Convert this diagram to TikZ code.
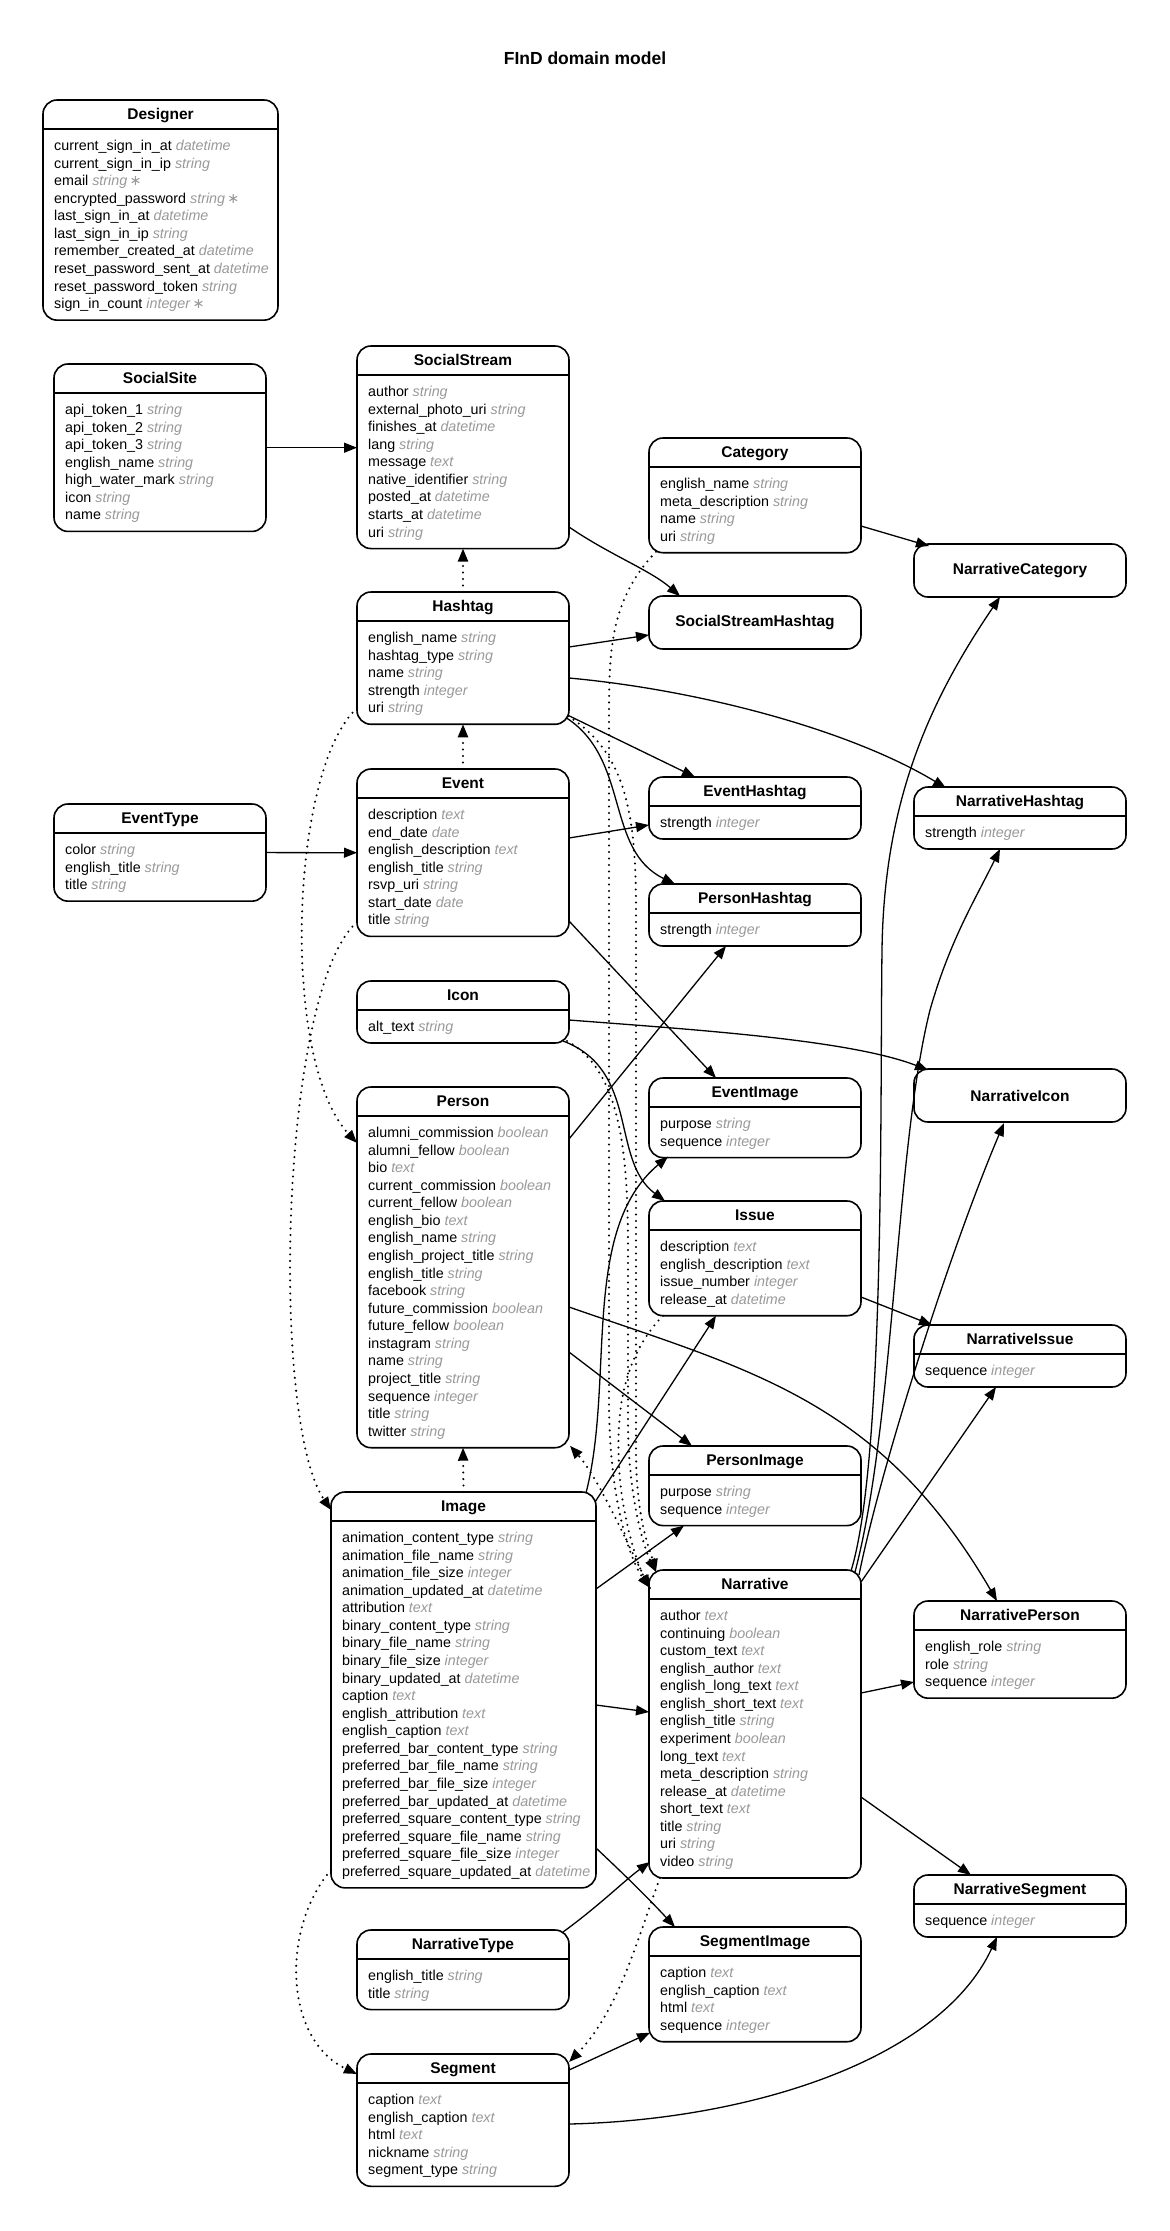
\documentclass[tikz,border=0pt]{standalone}
\usepackage{fontspec}
\setmainfont{Liberation Sans}
\newfontfamily\symfont{DejaVu Sans}
\usetikzlibrary{arrows.meta,calc}
\definecolor{typegrey}{gray}{0.6}

\tikzset{
  entbox/.style={draw, line width=1.6pt, rounded corners=14pt, anchor=north west, inner sep=0pt, outer sep=0pt},
  sepline/.style={line width=1.6pt},
  enttitle/.style={anchor=base, inner sep=0pt, font=\bfseries\fontsize{15.5}{18}\selectfont},
  entrows/.style={anchor=north west, inner sep=0pt, align=left, font=\fontsize{14.3}{17.57}\selectfont},
  joinbox/.style={entbox, minimum width=212pt, minimum height=53pt, font=\bfseries\fontsize{15.5}{18}\selectfont},
  rel/.style={-{Triangle[length=13pt,width=10pt]}, line width=1.3pt},
  indirect/.style={rel, line width=2.3pt, line cap=round, dash pattern=on 0pt off 6.5pt},
}

% attribute row: name, then its type in grey
\newcommand{\attr}[2]{#1 {\color{typegrey}\itshape #2}}
\newcommand{\req}{\,{\symfont\upshape ∗}}
% entity box: name, x, y, width, rows, title, attributes
\newcommand{\entity}[7]{%
  \node[entbox, minimum width=#4pt, minimum height={44.43pt+#5*17.57pt}] (#1) at (#2,#3) {};
  \draw[sepline] ([yshift=-29pt]#1.north west) -- ([yshift=-29pt]#1.north east);
  \node[enttitle] (#1-title) at ([yshift=-19.5pt]#1.north) {#6};
  \node[entrows] (#1-rows) at ([shift={(11pt,-38pt)}]#1.north west) {\strut#7};
}

\begin{document}
\begin{tikzpicture}[x=1pt, y=-1pt]
    % Canvas
    \fill[white] (0,0) rectangle (1170,2231);
    \useasboundingbox (0,0) rectangle (1170,2231);

    \node[font=\bfseries\fontsize{17.5}{20}\selectfont] (title) at (585,58) {FInD domain model};

    % Entities
    \entity{designer}{43}{100}{235}{10}{Designer}{\attr{current\_sign\_in\_at}{datetime}\\ \attr{current\_sign\_in\_ip}{string}\\ \attr{email}{string\req}\\ \attr{encrypted\_password}{string\req}\\ \attr{last\_sign\_in\_at}{datetime}\\ \attr{last\_sign\_in\_ip}{string}\\ \attr{remember\_created\_at}{datetime}\\ \attr{reset\_password\_sent\_at}{datetime}\\ \attr{reset\_password\_token}{string}\\ \attr{sign\_in\_count}{integer\req}}
    \entity{socialsite}{54}{364}{212}{7}{SocialSite}{\attr{api\_token\_1}{string}\\ \attr{api\_token\_2}{string}\\ \attr{api\_token\_3}{string}\\ \attr{english\_name}{string}\\ \attr{high\_water\_mark}{string}\\ \attr{icon}{string}\\ \attr{name}{string}}
    \entity{socialstream}{357}{346}{212}{9}{SocialStream}{\attr{author}{string}\\ \attr{external\_photo\_uri}{string}\\ \attr{finishes\_at}{datetime}\\ \attr{lang}{string}\\ \attr{message}{text}\\ \attr{native\_identifier}{string}\\ \attr{posted\_at}{datetime}\\ \attr{starts\_at}{datetime}\\ \attr{uri}{string}}
    \entity{category}{649}{438}{212}{4}{Category}{\attr{english\_name}{string}\\ \attr{meta\_description}{string}\\ \attr{name}{string}\\ \attr{uri}{string}}
    \node[joinbox] (ssh) at (649,596) {SocialStreamHashtag};
    \node[joinbox] (nc) at (914,544) {NarrativeCategory};
    \entity{hashtag}{357}{592}{212}{5}{Hashtag}{\attr{english\_name}{string}\\ \attr{hashtag\_type}{string}\\ \attr{name}{string}\\ \attr{strength}{integer}\\ \attr{uri}{string}}
    \entity{eh}{649}{777}{212}{1}{EventHashtag}{\attr{strength}{integer}}
    \entity{nh}{914}{787}{212}{1}{NarrativeHashtag}{\attr{strength}{integer}}
    \entity{eventtype}{54}{804}{212}{3}{EventType}{\attr{color}{string}\\ \attr{english\_title}{string}\\ \attr{title}{string}}
    \entity{event}{357}{769}{212}{7}{Event}{\attr{description}{text}\\ \attr{end\_date}{date}\\ \attr{english\_description}{text}\\ \attr{english\_title}{string}\\ \attr{rsvp\_uri}{string}\\ \attr{start\_date}{date}\\ \attr{title}{string}}
    \entity{ph}{649}{884}{212}{1}{PersonHashtag}{\attr{strength}{integer}}
    \entity{icon}{357}{981}{212}{1}{Icon}{\attr{alt\_text}{string}}
    \node[joinbox] (ni) at (914,1069) {NarrativeIcon};
    \entity{ei}{649}{1078}{212}{2}{EventImage}{\attr{purpose}{string}\\ \attr{sequence}{integer}}
    \entity{person}{357}{1087}{212}{18}{Person}{\attr{alumni\_commission}{boolean}\\ \attr{alumni\_fellow}{boolean}\\ \attr{bio}{text}\\ \attr{current\_commission}{boolean}\\ \attr{current\_fellow}{boolean}\\ \attr{english\_bio}{text}\\ \attr{english\_name}{string}\\ \attr{english\_project\_title}{string}\\ \attr{english\_title}{string}\\ \attr{facebook}{string}\\ \attr{future\_commission}{boolean}\\ \attr{future\_fellow}{boolean}\\ \attr{instagram}{string}\\ \attr{name}{string}\\ \attr{project\_title}{string}\\ \attr{sequence}{integer}\\ \attr{title}{string}\\ \attr{twitter}{string}}
    \entity{issue}{649}{1201}{212}{4}{Issue}{\attr{description}{text}\\ \attr{english\_description}{text}\\ \attr{issue\_number}{integer}\\ \attr{release\_at}{datetime}}
    \entity{nis}{914}{1325}{212}{1}{NarrativeIssue}{\attr{sequence}{integer}}
    \entity{pi}{649}{1446}{212}{2}{PersonImage}{\attr{purpose}{string}\\ \attr{sequence}{integer}}
    \entity{image}{331}{1492}{265}{20}{Image}{\attr{animation\_content\_type}{string}\\ \attr{animation\_file\_name}{string}\\ \attr{animation\_file\_size}{integer}\\ \attr{animation\_updated\_at}{datetime}\\ \attr{attribution}{text}\\ \attr{binary\_content\_type}{string}\\ \attr{binary\_file\_name}{string}\\ \attr{binary\_file\_size}{integer}\\ \attr{binary\_updated\_at}{datetime}\\ \attr{caption}{text}\\ \attr{english\_attribution}{text}\\ \attr{english\_caption}{text}\\ \attr{preferred\_bar\_content\_type}{string}\\ \attr{preferred\_bar\_file\_name}{string}\\ \attr{preferred\_bar\_file\_size}{integer}\\ \attr{preferred\_bar\_updated\_at}{datetime}\\ \attr{preferred\_square\_content\_type}{string}\\ \attr{preferred\_square\_file\_name}{string}\\ \attr{preferred\_square\_file\_size}{integer}\\ \attr{preferred\_square\_updated\_at}{datetime}}
    \entity{narrative}{649}{1570}{212}{15}{Narrative}{\attr{author}{text}\\ \attr{continuing}{boolean}\\ \attr{custom\_text}{text}\\ \attr{english\_author}{text}\\ \attr{english\_long\_text}{text}\\ \attr{english\_short\_text}{text}\\ \attr{english\_title}{string}\\ \attr{experiment}{boolean}\\ \attr{long\_text}{text}\\ \attr{meta\_description}{string}\\ \attr{release\_at}{datetime}\\ \attr{short\_text}{text}\\ \attr{title}{string}\\ \attr{uri}{string}\\ \attr{video}{string}}
    \entity{np}{914}{1601}{212}{3}{NarrativePerson}{\attr{english\_role}{string}\\ \attr{role}{string}\\ \attr{sequence}{integer}}
    \entity{ns}{914}{1875}{212}{1}{NarrativeSegment}{\attr{sequence}{integer}}
    \entity{nt}{357}{1930}{212}{2}{NarrativeType}{\attr{english\_title}{string}\\ \attr{title}{string}}
    \entity{si}{649}{1927}{212}{4}{SegmentImage}{\attr{caption}{text}\\ \attr{english\_caption}{text}\\ \attr{html}{text}\\ \attr{sequence}{integer}}
    \entity{segment}{357}{2054}{212}{5}{Segment}{\attr{caption}{text}\\ \attr{english\_caption}{text}\\ \attr{html}{text}\\ \attr{nickname}{string}\\ \attr{segment\_type}{string}}

    % Relations
    \draw[rel] (socialsite.east) -- (socialstream.west |- socialsite.east);
    \draw[rel] ([shift={(0,181)}]socialstream.north east) .. controls (610,555) and (650,570) .. ([shift={(31,0)}]ssh.north west);
    \draw[rel] ([shift={(0,55)}]hashtag.north east) -- ([shift={(0,39)}]ssh.north west);
    \draw[rel] ([shift={(0,88)}]category.north east) -- ([shift={(15,2)}]nc.north west);
    \draw[rel] ([shift={(-1,-9)}]hashtag.south east) -- ([shift={(46,0)}]eh.north west);
    \draw[rel] ([shift={(0,86)}]hashtag.north east) .. controls (700,690) and (850,730) .. ([shift={(32,1)}]nh.north west);
    \draw[rel] ([shift={(0,69)}]event.north east) -- ([shift={(0,48)}]eh.north west);
    \draw[rel] ([shift={(-2,-6)}]hashtag.south east) .. controls (630,760) and (605,850) .. ([shift={(26,0)}]ph.north west);
    \draw[rel] (eventtype.east) -- (event.west);
    \draw[rel] ([shift={(0,152)}]event.north east) -- ([shift={(67,0)}]ei.north west);
    \draw[rel] ([shift={(0,52)}]person.north east) -- ([shift={(77,0)}]ph.south west);
    \draw[rel] ([shift={(0,39)}]icon.north east) .. controls (700,1030) and (850,1040) .. ([shift={(14,1)}]ni.north west);
    \draw[rel] ([shift={(-6,-2)}]icon.south east) .. controls (640,1070) and (610,1160) .. ([shift={(16,0)}]issue.north west);
    \draw[rel] ([shift={(-10,1)}]image.north east) .. controls (615,1380) and (580,1230) .. ([shift={(19,-1)}]ei.south west);
    \draw[rel] ([shift={(-1,10)}]image.north east) -- ([shift={(67,0)}]issue.south west);
    \draw[rel] ([shift={(0,97)}]image.north east) -- ([shift={(35,0)}]pi.south west);
    \draw[rel] ([shift={(0,213)}]image.north east) -- ([shift={(0,142)}]narrative.north west);
    \draw[rel] ([shift={(0,356)}]image.north east) .. controls (630,1880) and (650,1900) .. ([shift={(26,0)}]si.north west);
    \draw[rel] ([shift={(0,265)}]person.north east) -- ([shift={(43,0)}]pi.north west);
    \draw[rel] ([shift={(0,220)}]person.north east) .. controls (750,1370) and (880,1400) .. ([shift={(83,0)}]np.north west);
    \draw[rel] ([shift={(0,96)}]issue.north east) -- ([shift={(18,0)}]nis.north west);
    \draw[rel] ([shift={(-10,1)}]narrative.north east) .. controls (885,1460) and (880,1100) .. (882,950) .. controls (884,800) and (930,700) .. ([shift={(86,0)}]nc.south west);
    \draw[rel] ([shift={(-6,2)}]narrative.north east) .. controls (895,1420) and (895,1150) .. (930,1010) .. controls (950,940) and (975,900) .. ([shift={(86,0)}]nh.south west);
    \draw[rel] ([shift={(-2,5)}]narrative.north east) .. controls (880,1470) and (950,1250) .. ([shift={(90,1)}]ni.south west);
    \draw[rel] ([shift={(0,12)}]narrative.north east) -- ([shift={(82,0)}]nis.south west);
    \draw[rel] ([shift={(0,123)}]narrative.north east) -- ([shift={(0,81)}]np.north west);
    \draw[rel] ([shift={(0,227)}]narrative.north east) -- ([shift={(57,0)}]ns.north west);
    \draw[rel] ([shift={(-6,2)}]nt.north east) .. controls (600,1905) and (625,1880) .. ([shift={(1,-16)}]narrative.south west);
    \draw[rel] ([shift={(0,16)}]segment.north east) -- ([shift={(1,-9)}]si.south west);
    \draw[rel] ([shift={(0,70)}]segment.north east) .. controls (750,2120) and (940,2060) .. ([shift={(83,0)}]ns.south west);

    % Indirect relations
    \draw[indirect] (hashtag.north) -- (socialstream.south);
    \draw[indirect] (event.north) -- (hashtag.south);
    \draw[indirect] (image.north) -- (person.south);
    \draw[indirect] ([shift={(0,116)}]hashtag.north west) .. controls (290,770) and (280,1060) .. ([shift={(0,56)}]person.north west);
    \draw[indirect] ([shift={(0,153)}]event.north west) .. controls (280,990) and (270,1420) .. ([shift={(0,18)}]image.north west);
    \draw[indirect] ([shift={(0,-18)}]image.south west) .. controls (280,1930) and (285,2040) .. ([shift={(0,20)}]segment.north west);
    \draw[indirect] ([shift={(11,0)}]narrative.south west) .. controls (640,1930) and (620,2010) .. ([shift={(0,8)}]segment.north east);
    \draw[indirect] ([shift={(7,-1)}]category.south west) .. controls (610,600) and (609,650) .. (609,720) -- (609,1400) .. controls (609,1500) and (630,1560) .. ([shift={(1,18)}]narrative.north west);
    \draw[indirect] ([shift={(-1,-8)}]hashtag.south east) .. controls (640,760) and (636,850) .. (636,950) -- (636,1450) .. controls (636,1520) and (650,1550) .. ([shift={(7,2)}]narrative.north west);
    \draw[indirect] ([shift={(-2,-2)}]icon.south east) .. controls (620,1070) and (628,1150) .. (628,1250) -- (628,1420) .. controls (628,1500) and (645,1550) .. ([shift={(7,2)}]narrative.north west);
    \draw[indirect] ([shift={(14,0)}]issue.south west) .. controls (620,1360) and (615,1420) .. (620,1480) .. controls (625,1530) and (640,1570) .. ([shift={(1,18)}]narrative.north west);
    \draw[indirect] ([shift={(1,18)}]narrative.north west) .. controls (630,1550) and (600,1480) .. ([shift={(1,-2)}]person.south east);
\end{tikzpicture}
\end{document}
